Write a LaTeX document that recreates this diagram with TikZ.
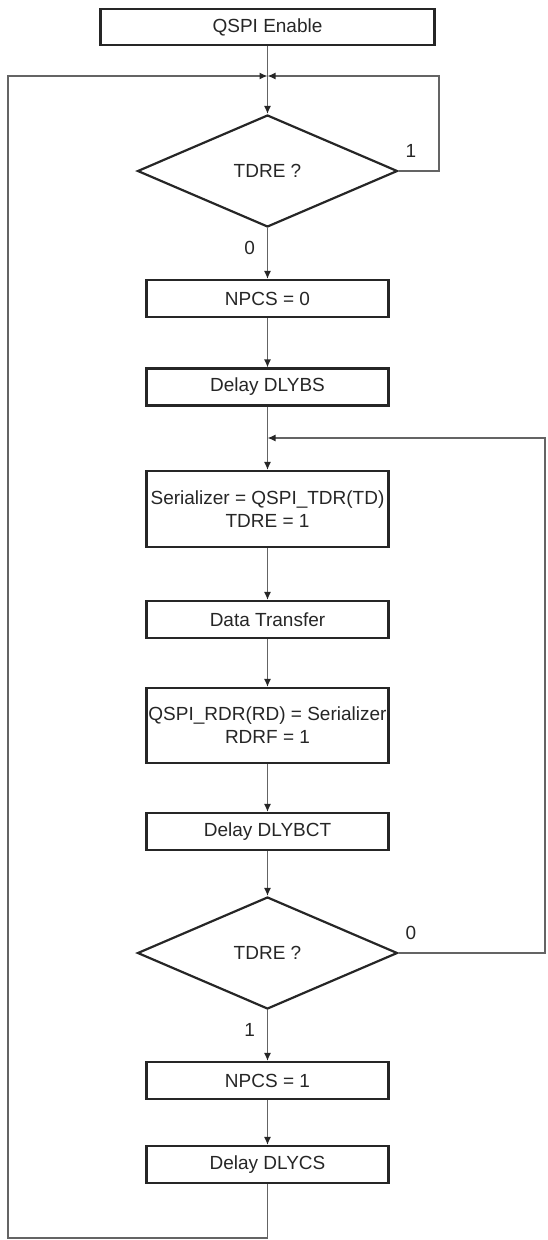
\documentclass[tikz,border=0pt]{standalone}
\usepackage{fontspec}
\setmainfont{Liberation Sans}
\usetikzlibrary{arrows.meta,shapes.geometric}
\begin{document}
\begin{tikzpicture}[x=1pt,y=-1pt,
  every node/.style={font=\fontsize{19}{23}\selectfont, text=black!85},
  procbox/.style={draw=black!85, line width=2.2pt, rectangle, minimum width=242pt, minimum height=37pt, inner sep=0pt, align=center},
  decision/.style={draw=black!85, line width=2.2pt, diamond, aspect=2.32, minimum width=260pt, minimum height=112pt, inner sep=0pt},
  conn/.style={draw={rgb,255:red,100;green,100;blue,100}, line width=1.3pt},
  arr/.style={conn, -{Latex[length=8pt,width=7pt,color=black!85]}},
  lbl/.style={inner sep=0pt}
]
\useasboundingbox (0,0) rectangle (548,1240);

\node[procbox, minimum width=334pt, minimum height=36pt] (en) at (267.5,27) {QSPI Enable};
\node[decision] (d1) at (267.5,171) {TDRE ?};
\node[procbox] (n0) at (267.5,298.5) {NPCS = 0};
\node[procbox] (bs) at (267.5,387) {Delay DLYBS};
\node[procbox, minimum height=76pt] (ser) at (267.5,509) {Serializer = QSPI\_TDR(TD)\\TDRE = 1};
\node[procbox] (dt) at (267.5,619.5) {Data Transfer};
\node[procbox, minimum height=75pt] (rdr) at (267.5,725.5) {QSPI\_RDR(RD) = Serializer\\RDRF = 1};
\node[procbox] (bct) at (267.5,831.5) {Delay DLYBCT};
\node[decision] (d2) at (267.5,953) {TDRE ?};
\node[procbox] (n1) at (267.5,1080.5) {NPCS = 1};
\node[procbox] (cs) at (267.5,1164.5) {Delay DLYCS};

\coordinate (j1) at (267.5,76);
\coordinate (j2) at (267.5,438);
\coordinate (lt) at (8,76);
\coordinate (lb) at (8,1238);
\coordinate (rt1) at (439,76);
\coordinate (rt2) at (545,438);

% main flow
\draw[arr] (en.south) -- (d1.north);
\draw[arr] (d1.south) -- node[lbl, left=12pt, pos=0.4] {0} (n0.north);
\draw[arr] (n0.south) -- (bs.north);
\draw[arr] (bs.south) -- (ser.north);
\draw[arr] (ser.south) -- (dt.north);
\draw[arr] (dt.south) -- (rdr.north);
\draw[arr] (rdr.south) -- (bct.north);
\draw[arr] (bct.south) -- (d2.north);
\draw[arr] (d2.south) -- node[lbl, left=12pt, pos=0.4] {1} (n1.north);
\draw[arr] (n1.south) -- (cs.north);

% loops
\draw[arr] (d1.east) -| (rt1) -- (j1);
\draw[arr] (d2.east) -| (rt2) -- (j2);
\draw[arr] (cs.south) |- (lb) -- (lt) -- (j1);

\node[lbl] (l1) at (411,151) {1};
\node[lbl] (l0) at (411,933) {0};
\end{tikzpicture}
\end{document}
